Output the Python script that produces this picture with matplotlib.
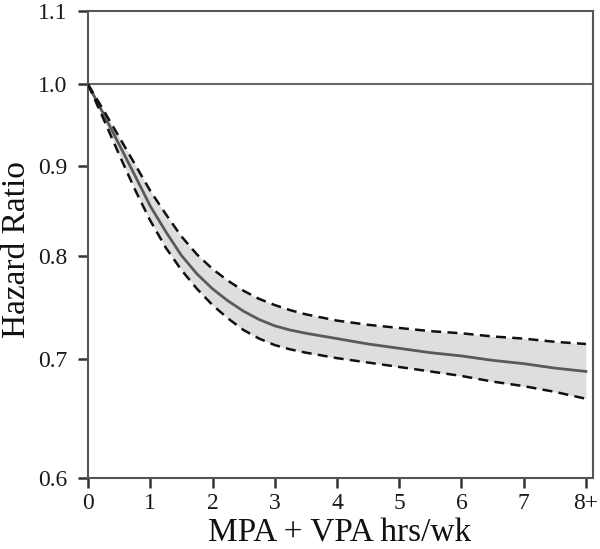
import matplotlib
matplotlib.use("Agg")
import matplotlib.pyplot as plt
from matplotlib.ticker import FixedLocator, FixedFormatter, NullLocator

hours = [0, 0.25, 0.5, 0.75, 1, 1.25, 1.5, 1.75, 2, 2.25, 2.5, 2.75, 3,
         3.25, 3.5, 4, 4.5, 5, 5.5, 6, 6.5, 7, 7.5, 8]
hr = [1.0, 0.962, 0.925, 0.889, 0.854, 0.826, 0.801, 0.782, 0.767, 0.755,
      0.745, 0.737, 0.731, 0.727, 0.724, 0.719, 0.714, 0.710, 0.706, 0.703,
      0.699, 0.696, 0.692, 0.689]
upper = [1.0, 0.967, 0.934, 0.902, 0.871, 0.845, 0.821, 0.802, 0.787, 0.775,
         0.765, 0.757, 0.751, 0.746, 0.742, 0.736, 0.732, 0.729, 0.726, 0.724,
         0.721, 0.719, 0.716, 0.714]
lower = [1.0, 0.956, 0.913, 0.873, 0.838, 0.809, 0.786, 0.767, 0.751, 0.738,
         0.727, 0.719, 0.713, 0.709, 0.706, 0.701, 0.697, 0.693, 0.689, 0.685,
         0.680, 0.676, 0.671, 0.665]

xticks = [0, 1, 2, 3, 4, 5, 6, 7, 8]
xticklabels = ["0", "1", "2", "3", "4", "5", "6", "7", "8+"]
yticks = [0.6, 0.7, 0.8, 0.9, 1.0, 1.1]
yticklabels = ["0.6", "0.7", "0.8", "0.9", "1.0", "1.1"]

plt.rcParams['font.family'] = ['Liberation Serif', 'DejaVu Serif']

fig = plt.figure(figsize=(6.0, 5.49), dpi=100)
ax = fig.add_axes([0.1467, 0.1293, 0.8413, 0.8507])

ax.set_yscale('log')
ax.set_xlim(0, 8.11)
ax.set_ylim(0.6, 1.1)

ax.axhline(1.0, color='#666666', lw=1.5, zorder=1)
ax.fill_between(hours, lower, upper, color='#dedede', lw=0, zorder=2)
ax.plot(hours, hr, color='#5a5a5a', lw=2.0, zorder=3, solid_joinstyle='round')
ax.plot(hours, upper, color='#111111', lw=1.8, ls=(0, (4, 2.5)), zorder=4)
ax.plot(hours, lower, color='#111111', lw=1.8, ls=(0, (4, 2.5)), zorder=4)

ax.xaxis.set_major_locator(FixedLocator(xticks))
ax.xaxis.set_major_formatter(FixedFormatter(xticklabels))
ax.yaxis.set_major_locator(FixedLocator(yticks))
ax.yaxis.set_major_formatter(FixedFormatter(yticklabels))
ax.yaxis.set_minor_locator(NullLocator())
ax.xaxis.set_minor_locator(NullLocator())

for s in ax.spines.values():
    s.set_color('#555555')
    s.set_linewidth(1.5)

ax.tick_params(axis='both', direction='out', length=7, width=1.8,
               color='#333333', labelsize=17, labelcolor='#1a1a1a')
ax.tick_params(axis='y', pad=8)
ax.tick_params(axis='x', pad=4)

ax.set_xlabel("MPA + VPA hrs/wk", fontsize=24, color='#111111')
ax.set_ylabel("Hazard Ratio", fontsize=24, color='#111111')
ax.xaxis.set_label_coords(0.499, -0.086)
ax.yaxis.set_label_coords(-0.110, 0.49)

fig.savefig("out.png", dpi=100)
